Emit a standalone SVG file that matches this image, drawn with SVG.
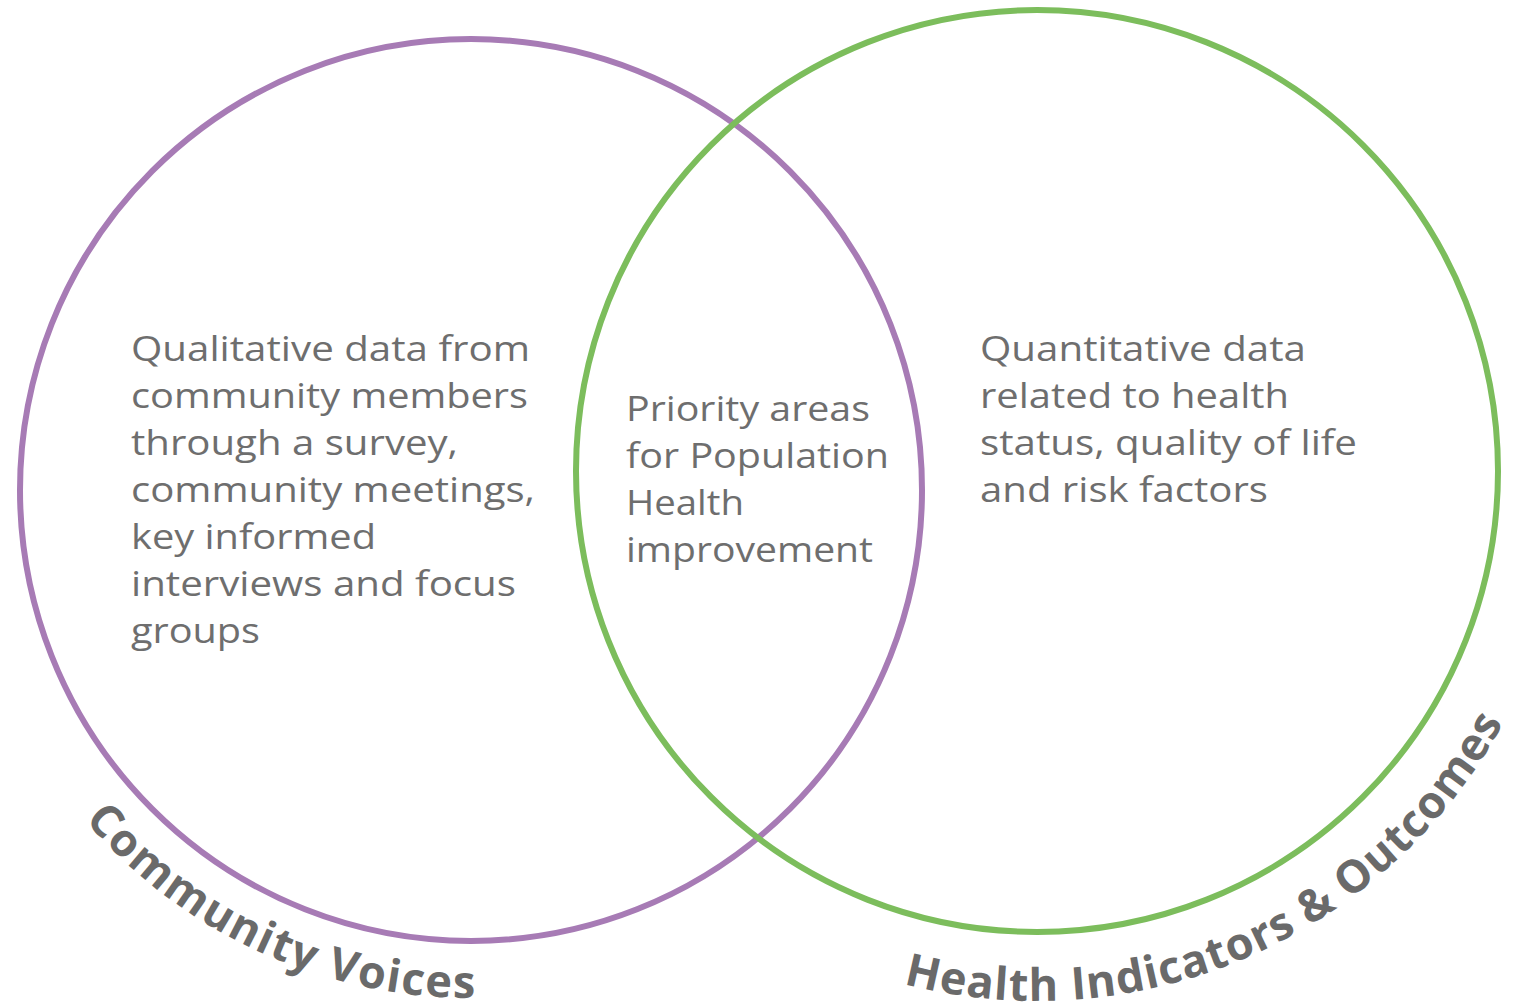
<svg xmlns="http://www.w3.org/2000/svg" width="1519" height="1003" viewBox="0 0 1519 1003">
<style>
.body{font-family:"Open Sans","Liberation Sans",sans-serif;font-size:35px;fill:#6e6e6e;}
.label{font-family:"Open Sans","Liberation Sans",sans-serif;font-size:45px;font-weight:700;fill:#6a6a6a;}
.ring{fill:none;stroke-width:6;}
</style>
<defs>
<path id="arcL" d="M 31.1 744 A 508 508 0 0 0 644.7 967.4"/>
<path id="arcR" d="M 855.7 969 A 530 530 0 0 0 1558.9 563"/>
</defs>
<rect width="1519" height="1003" fill="#ffffff"/>
<g id="community-voices">
<circle class="ring" cx="471" cy="490" r="451" stroke="#a77bb5"/>
<text class="body">
<tspan x="131" y="361" textLength="399" lengthAdjust="spacingAndGlyphs">Qualitative data from</tspan>
<tspan x="131" y="408" textLength="397" lengthAdjust="spacingAndGlyphs">community members</tspan>
<tspan x="131" y="455" textLength="327" lengthAdjust="spacingAndGlyphs">through a survey,</tspan>
<tspan x="131" y="502" textLength="404" lengthAdjust="spacingAndGlyphs">community meetings,</tspan>
<tspan x="131" y="549" textLength="245" lengthAdjust="spacingAndGlyphs">key informed</tspan>
<tspan x="131" y="596" textLength="385" lengthAdjust="spacingAndGlyphs">interviews and focus</tspan>
<tspan x="131" y="643" textLength="129" lengthAdjust="spacingAndGlyphs">groups</tspan>
</text>
<text class="label"><textPath href="#arcL" startOffset="93" textLength="443" lengthAdjust="spacing">Community Voices</textPath></text>
</g>
<g id="health-indicators">
<circle class="ring" cx="1037" cy="471" r="461" stroke="#7cbd5c"/>
<text class="body">
<tspan x="980" y="361" textLength="326" lengthAdjust="spacingAndGlyphs">Quantitative data</tspan>
<tspan x="980" y="408" textLength="309" lengthAdjust="spacingAndGlyphs">related to health</tspan>
<tspan x="980" y="455" textLength="377" lengthAdjust="spacingAndGlyphs">status, quality of life</tspan>
<tspan x="980" y="502" textLength="288" lengthAdjust="spacingAndGlyphs">and risk factors</tspan>
</text>
<text class="label"><textPath href="#arcR" startOffset="50" textLength="705" lengthAdjust="spacing">Health Indicators &amp; Outcomes</textPath></text>
</g>
<g id="overlap">
<text class="body">
<tspan x="626" y="421" textLength="244" lengthAdjust="spacingAndGlyphs">Priority areas</tspan>
<tspan x="626" y="468" textLength="263" lengthAdjust="spacingAndGlyphs">for Population</tspan>
<tspan x="626" y="515" textLength="118" lengthAdjust="spacingAndGlyphs">Health</tspan>
<tspan x="626" y="562" textLength="247" lengthAdjust="spacingAndGlyphs">improvement</tspan>
</text>
</g>
<g id="connectors"></g>
</svg>
